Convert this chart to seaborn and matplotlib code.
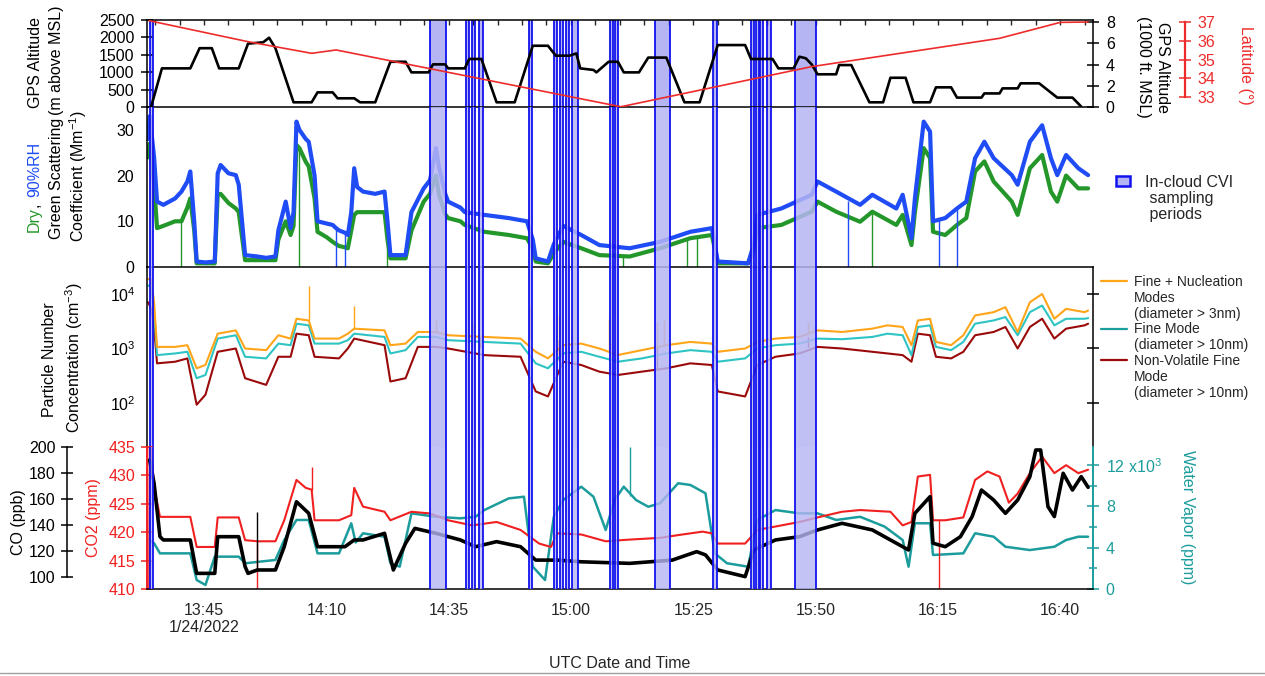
import matplotlib
matplotlib.use("Agg")
import matplotlib.pyplot as plt
import matplotlib.ticker as mticker
from matplotlib.colors import to_rgba
from matplotlib.lines import Line2D
from matplotlib.patches import Patch
import seaborn as sns

# ---------------- data (time = minutes after 13:00 UTC, 1/24/2022) ----------------
alt_t = [34.2, 36.4, 42.2, 44.1, 46.6, 48.1, 52.1, 54.0, 57.1, 58.3, 59.6, 63.3, 67.0, 68.2, 71.3, 72.3,
         75.7, 76.9, 80.0, 83.1, 86.2, 87.4, 90.9, 91.8, 94.3, 94.9, 98.3, 99.2, 101.7, 104.8, 108.5,
         112.2, 115.3, 116.9, 119.7, 121.1, 121.9, 124.6, 125.2, 127.7, 129.6, 130.8, 133.9, 135.8,
         139.5, 143.2, 146.3, 150.0, 155.6, 156.8, 161.2, 162.4, 165.5, 166.7, 168.0, 169.2, 170.4,
         174.2, 174.8, 177.3, 181.0, 183.8, 185.3, 188.4, 190.0, 193.4, 194.6, 197.7, 198.9, 203.9,
         204.5, 207.6, 208.2, 211.3, 211.9, 215.7, 219.4, 222.5, 224.3]
alt_m = [10, 1110, 1110, 1690, 1690, 1110, 1110, 1820, 1860, 1990, 1690, 135, 135, 420, 420, 250,
         250, 135, 135, 1300, 1300, 995, 995, 1225, 1225, 1110, 1110, 1380, 1380, 135, 135,
         1760, 1760, 1475, 1475, 1540, 1110, 1065, 995, 1300, 1300, 995, 995, 1420,
         1420, 135, 135, 1780, 1780, 1380, 1380, 1110, 1110, 1445, 1400, 1225, 940,
         940, 1205, 1205, 135, 135, 840, 840, 135, 135, 565, 565, 270, 270,
         390, 390, 535, 535, 680, 680, 270, 270, 10]

lat_t = [33.8, 54.0, 67.0, 72.0, 130.2, 169.2, 207.6, 220.0, 225.7]
lat_deg = [37.07, 35.95, 35.33, 35.51, 32.48, 34.62, 36.13, 36.98, 37.0]

scat_t = [33.6, 33.9, 34.2, 34.8, 35.4, 36.7, 39.1, 40.4, 41.6, 42.2,
          43.0, 43.5, 45.3, 47.2, 47.8, 48.4, 50.0, 51.5, 52.1, 53.4,
          55.9, 57.7, 59.6, 60.2, 61.7, 62.7, 63.3, 63.9, 64.5, 65.8,
          66.4, 67.6, 68.2, 70.1, 71.3, 72.0, 72.6, 73.8, 74.4, 75.1,
          75.7, 76.3, 77.5, 80.0, 81.9, 82.5, 83.1, 86.2, 87.4, 89.9,
          91.2, 92.4, 93.0, 94.3, 94.9, 97.4, 98.3, 102.3, 107.3, 111.0,
          112.2, 112.8, 115.3, 116.5, 118.4, 122.1, 125.8, 132.0, 138.2, 144.4,
          148.8, 149.4, 150.0, 156.2, 157.4, 158.1, 163.0, 169.2, 170.4, 174.2,
          179.1, 181.6, 186.5, 187.8, 189.6, 190.3, 192.1, 193.4, 194.0, 196.5,
          198.9, 200.8, 202.6, 204.5, 206.4, 210.1, 211.3, 213.8, 216.3, 218.1,
          219.4, 221.2, 223.7, 225.7]
scat_wet = [28, 33, 30, 24, 14.3, 13.6, 15, 16.5, 18.7, 20.9,
            10, 1.2, 1.0, 1.2, 20.5, 22.3, 20.5, 20.1, 18, 2.6,
            2.3, 2.0, 2.3, 8, 14.3, 8.5, 12, 31.8, 30, 28,
            27.4, 20, 10, 9.5, 9.2, 8.5, 8.0, 7.5, 7.0, 12,
            21.6, 17.5, 16.5, 16, 16.5, 10, 2.6, 2.6, 12, 17.2,
            19, 26, 22, 16, 14.3, 13, 12, 11.4, 10.7, 10,
            6, 1.9, 1.2, 5, 9, 7, 4.8, 4.1, 5.5, 7.7,
            8.5, 5, 1.2, 0.8, 5, 11.4, 12.8, 15.8, 18.7, 16.5,
            13.6, 15.8, 12.8, 15.8, 6.3, 15, 31.8, 29.6, 10, 10.7,
            12.8, 14.3, 23.8, 27.4, 23.8, 20.1, 18, 27.4, 31, 23.8,
            20.1, 24.5, 21.6, 20.1]
scat_dry = [24, 27, 24, 18, 8.5, 9, 10, 10, 13, 15,
            8, 0.8, 0.8, 0.8, 15.8, 16, 14, 12.8, 12, 1.5,
            1.5, 1.5, 1.5, 6, 10, 7, 9, 26.7, 26, 23,
            22, 15, 7.7, 6.5, 5.5, 5.0, 4.6, 4.3, 4.1, 8,
            11.4, 12, 12, 12, 12, 6, 1.9, 1.9, 8, 14.3,
            16, 20, 16, 11.5, 10.7, 10, 9.2, 7.7, 7.0, 6.3,
            4, 1.2, 0.8, 3, 5.5, 4.1, 2.6, 2.3, 4.1, 6.3,
            7.0, 4, 0.8, 0.8, 4, 8.5, 9.2, 12.1, 14.3, 12.1,
            9.9, 12.1, 9.2, 11.4, 4.8, 12, 26, 23.8, 7.7, 7.0,
            9.2, 10.7, 20.9, 23.1, 18.7, 14.3, 11.4, 21.6, 24.5, 16.5,
            14.3, 20, 17.2, 17.2]
wet_dip_t = [72.0, 73.8, 176.6, 195.2, 198.9]
wet_dip_top = [8.5, 7.5, 14.5, 10.5, 12.8]
dry_dip_t = [40.4, 64.5, 82.5, 130.6, 143.8, 145.7, 181.6]
dry_dip_top = [10, 26, 6, 2.3, 6.3, 6.5, 12.1]

pn_t = [33.6, 34.2, 34.8, 35.4, 39.1, 41.6, 43.5, 45.3, 47.8, 51.5, 53.4, 57.7, 60.2, 62.7, 63.9, 66.4,
        67.6, 72.6, 74.4, 75.7, 81.9, 83.1, 86.2, 88.7, 92.4, 94.9, 102.3, 109.7, 112.8, 115.3, 118.4,
        122.1, 125.8, 129.6, 134.5, 139.5, 144.4, 148.8, 150.0, 155.6, 158.1, 161.8, 166.7, 170.4,
        175.4, 181.6, 184.7, 187.8, 189.6, 190.9, 193.4, 194.6, 197.7, 200.2, 202.6, 206.4, 208.8,
        211.3, 213.8, 216.3, 218.8, 221.2, 225.0, 225.7]
pn_nuc = [18750, 18750, 7000, 1070, 1070, 1150, 433, 500, 1870, 2150, 1000, 933, 1750, 1520, 3510, 3270,
          1520, 1520, 1870, 2310, 2150, 1150, 1230, 2010, 2010, 1750, 1630, 1520, 870, 660, 1150,
          1230, 1000, 760, 933, 1150, 1320, 1230, 870, 1000, 1320, 1520, 1630, 2150,
          2010, 2310, 2660, 2480, 1150, 3270, 3510, 1320, 1150, 1750, 4040, 4640, 5720,
          2010, 7050, 10000, 3510, 5340, 4640, 4980]
pn_fine = [14190, 14190, 5000, 756, 811, 870, 285, 327, 1520, 1750, 705, 658, 1230, 1150, 2850, 2660,
           1230, 1230, 1420, 1870, 1630, 811, 933, 1630, 1630, 1420, 1320, 1230, 534, 433, 811,
           870, 705, 572, 658, 811, 933, 870, 572, 658, 1000, 1150, 1230, 1520,
           1480, 1630, 1870, 1750, 756, 2480, 2660, 1070, 933, 1320, 2850, 3270, 3770,
           1750, 4640, 6130, 2660, 3510, 3510, 3610]
pn_nonvol = [7050, 5340, 2500, 534, 572, 658, 93, 142, 870, 1000, 285, 215, 705, 705, 1870, 1750,
             705, 658, 1000, 1520, 1150, 248, 285, 1070, 1070, 1000, 756, 705, 163, 132, 572,
             498, 376, 327, 376, 433, 534, 498, 163, 132, 498, 705, 811, 1070,
             1000, 870, 811, 756, 572, 1870, 1750, 705, 658, 870, 1750, 2010, 2480,
             1000, 2480, 3510, 1520, 2310, 2660, 2850]
nuc_spike_t = [66.4, 75.7, 92.4, 100.0, 111.7, 117.5, 120.3, 127.8, 137.6, 139.0, 168.5]
nuc_spike_base = [3270, 2310, 2010, 1700, 1520, 1000, 1200, 850, 1000, 1100, 1800]
nuc_spike_top = [14190, 6130, 3510, 3000, 6130, 4040, 5340, 3510, 3000, 3270, 3000]
nv_spike_t = [99.8, 101.5, 117.5, 120.3, 128.0, 137.6, 158.5, 168.5]
nv_spike_base = [1000, 1000, 600, 700, 376, 400, 600, 1050]
nv_spike_top = [1750, 1630, 1420, 1750, 1320, 1230, 1230, 1630]

co2_t = [33.8, 33.9, 34.2, 34.8, 36.0, 42.2, 43.5, 47.2, 47.8, 52.1,
         53.4, 55.9, 59.6, 61.4, 63.9, 65.8, 67.0, 67.6, 72.6, 75.1,
         75.7, 77.5, 81.9, 83.1, 87.4, 91.2, 94.9, 99.8, 102.3, 104.8,
         109.7, 113.5, 115.9, 117.2, 122.1, 127.1, 132.0, 138.2, 142.0, 146.9,
         148.8, 150.0, 155.6, 158.1, 161.8, 166.7, 170.4, 175.4, 179.1, 185.3,
         187.8, 189.6, 190.9, 193.4, 194.0, 196.5, 200.2, 202.6, 205.1, 207.6,
         209.5, 211.3, 213.8, 216.3, 218.8, 221.2, 223.7, 225.7]
co2_ppm = [410, 435, 435, 428, 422.7, 422.7, 417.4, 417.4, 422.6, 422.6,
           418.6, 418.4, 418.4, 422.1, 429.2, 427.8, 427.5, 422.1, 422.1, 423.0,
           427.8, 424.5, 423.6, 422.1, 423.6, 423.3, 422.1, 421.2, 421.5, 421.8,
           420.4, 418.0, 417.4, 419.8, 419.6, 418.4, 418.7, 419.0, 419.5, 420.1,
           419.8, 418.0, 418.0, 420.4, 421.0, 421.8, 422.6, 423.6, 423.9, 423.6,
           421.2, 421.8, 429.8, 430.1, 422.1, 422.1, 422.6, 429.2, 430.7, 429.8,
           425.2, 426.8, 430.4, 433.3, 430.4, 431.8, 430.4, 431.0]
co2_dip_t = [55.9, 195.2]
co2_dip_top = [418.4, 422.1]
co2_spike_t = [67.0]
co2_spike_base = [427.5]
co2_spike_top = [431.5]

co_t = [33.9, 34.8, 36.0, 36.7, 42.2, 43.5, 47.2, 47.8, 52.1, 53.4,
        54.0, 55.9, 59.6, 61.4, 63.9, 66.4, 68.2, 73.8, 75.7, 77.5,
        81.9, 83.7, 86.2, 88.1, 92.4, 97.4, 100.5, 104.8, 109.7, 112.8,
        117.2, 122.1, 132.0, 140.7, 145.7, 147.5, 150.0, 155.6, 157.4, 161.8,
        166.7, 170.4, 175.4, 181.6, 185.3, 189.0, 190.3, 193.4, 194.0, 196.5,
        199.6, 202.0, 203.9, 206.4, 208.8, 211.3, 213.8, 215.0, 216.0, 217.5,
        218.8, 220.6, 222.5, 224.3, 225.7]
co_ppb = [190, 172, 131, 128.5, 128.5, 102.8, 102.8, 131, 131, 108,
          102.8, 105.4, 105.4, 123.3, 157.9, 149, 123.3, 123.3, 128.5, 128.5,
          133.6, 105.4, 125.9, 137.4, 133.6, 128.5, 123.3, 127.2, 123.3, 113,
          113, 111.7, 110.5, 113, 119.5, 117, 105.4, 100.3, 120.8, 128.5,
          131, 136.2, 141.3, 136.2, 128.5, 120.8, 149, 161.8, 126, 123.3,
          131, 146.5, 166.9, 159.2, 149, 159.2, 177.2, 197.7, 197.7, 154.1,
          146.5, 179.8, 166.9, 177.2, 169]
co_spike_t = [55.9]
co_spike_base = [105.4]
co_spike_top = [150]

h2o_t = [33.9, 34.8, 36.0, 42.2, 43.5, 45.3, 47.2, 52.1, 53.4, 59.6,
         61.4, 63.9, 66.4, 68.2, 72.6, 75.1, 76.0, 77.5, 81.9, 83.1,
         85.0, 87.4, 92.4, 97.4, 100.5, 102.3, 107.3, 110.4, 112.2, 114.7,
         116.5, 118.4, 122.1, 124.6, 127.1, 128.9, 130.8, 133.3, 135.8, 138.2,
         141.9, 144.4, 147.5, 149.4, 151.9, 156.2, 158.1, 161.8, 166.7, 170.4,
         174.2, 179.1, 184.1, 187.8, 189.0, 190.3, 193.4, 194.0, 200.2, 202.6,
         206.4, 208.8, 213.8, 218.8, 221.2, 223.7, 225.7]
h2o_ppm = [4700, 4420, 3450, 3450, 870, 390, 3130, 3130, 2490, 2810,
           4740, 6680, 6680, 3450, 3450, 6360, 4500, 5390, 5060, 2490,
           2160, 7320, 6990, 6840, 6990, 7640, 8770, 8930, 2160, 870,
           6990, 8610, 9900, 8930, 5710, 8610, 9900, 8610, 7960, 8290,
           10230, 10070, 9260, 3450, 2490, 2160, 6680, 7640, 7320, 7320,
           6680, 6990, 6040, 4740, 2160, 6360, 6360, 3290, 3450, 5390,
           5060, 4090, 3770, 4090, 4740, 5060, 5060]
h2o_spike_t = [132.0]
h2o_spike_base = [9000]
h2o_spike_top = [13770]

cvi_start = [33.9, 91.2, 98.6, 99.8, 101.3, 111.35, 116.55, 117.67, 119.03, 120.27,
             127.95, 129.06, 137.24, 149.01, 156.81, 157.8, 158.67, 160.16, 165.73]
cvi_end = [34.5, 94.5, 99.1, 100.45, 102.06, 111.97, 117.17, 118.41, 119.65, 121.38,
           128.57, 129.68, 140.21, 149.75, 157.43, 158.42, 159.29, 160.9, 170.06]

xtick_pos = [45, 70, 95, 120, 145, 170, 195, 220]
xtick_lab = ['13:45\n1/24/2022', '14:10', '14:35', '15:00', '15:25', '15:50', '16:15', '16:40']
alt_ticks = [0, 500, 1000, 1500, 2000, 2500]
kft_ticks = [0, 2, 4, 6, 8]
lat_ticks = [33, 34, 35, 36, 37]
scat_ticks = [0, 10, 20, 30]
co2_ticks = [410, 415, 420, 425, 430, 435]
co_ticks = [100, 120, 140, 160, 180, 200]
h2o_ticks = [0, 4000, 8000, 12000]
h2o_minor = [2000, 6000, 10000]
h2o_labels = ['0', '4', '8', '12 x10$^3$']

# ---------------- style ----------------
C_GREEN = '#24972b'
C_BLUE = '#1f4cf5'
C_LAT = '#ee2b2b'
C_NUC = '#ffa51a'
C_FINE = '#2ec4c4'
C_FINE_LEG = '#1c9e9e'
C_NV = '#9a0a0a'
C_CO2 = '#f02020'
C_H2O = '#1c9c9c'
CVI_FC = '#b5b5f3'
CVI_EC = '#1212ee'

sns.set_style('white')
plt.rcParams.update({
    'font.family': ['Liberation Sans', 'DejaVu Sans'],
    'mathtext.fontset': 'custom',
    'mathtext.rm': 'Liberation Sans',
    'mathtext.it': 'Liberation Sans:italic',
    'mathtext.bf': 'Liberation Sans:bold',
    'mathtext.default': 'regular',
    'axes.linewidth': 1.1,
    'axes.edgecolor': 'black',
})
FS = 11.5
W, H = 1265, 676
fig = plt.figure(figsize=(W / 100, H / 100), dpi=100)
fig.patch.set_facecolor('white')


def fx(p):
    return p / W


def fy(p):
    return 1 - p / H


XL, XR = 147, 1093


def panel(top, bottom, **kw):
    return fig.add_axes([fx(XL), fy(bottom), (XR - XL) / W, (bottom - top) / H], **kw)


def plot(ax, t, v, color, lw, z=2):
    sns.lineplot(x=t, y=v, ax=ax, color=color, linewidth=lw, estimator=None,
                 sort=False, legend=False, zorder=z)


def spans(ax, z, alpha):
    for s, e in zip(cvi_start, cvi_end):
        ax.axvspan(s, e, facecolor=to_rgba(CVI_FC, alpha), edgecolor='none', lw=0, zorder=z)
        ax.axvline(s, color=CVI_EC, lw=1.3, zorder=z + 0.01)
        ax.axvline(e, color=CVI_EC, lw=1.3, zorder=z + 0.01)


def ystyle(ax, color='black', pad=5, minor_len=6):
    ax.tick_params(axis='y', which='major', direction='inout', length=8.5, width=1.1,
                   color=color, labelcolor=color, labelsize=FS, pad=pad)
    ax.tick_params(axis='y', which='minor', direction='inout', length=minor_len, width=1.1, color=color)


def hide(ax, *names):
    for n in names:
        ax.spines[n].set_visible(False)


ax1 = panel(20, 107)
ax2 = panel(107, 267, sharex=ax1)
ax3 = panel(267, 447, sharex=ax1)
ax4 = panel(447, 589, sharex=ax1)
for a in (ax1, ax2, ax3, ax4):
    a.patch.set_visible(False)

# ---------- panel 1: altitude + latitude ----------
spans(ax1, 0.5, 1.0)
plot(ax1, alt_t, alt_m, 'black', 1.9)
ax1.set_ylim(0, 2500)
ax1.set_yticks(alt_ticks)
ax1.yaxis.set_minor_locator(mticker.NullLocator())
ystyle(ax1)
hide(ax1, 'right')

ax1ft = ax1.twinx()
ax1ft.set_ylim(0, 2500 / 304.8)
ax1ft.set_yticks(kft_ticks)
ax1ft.yaxis.set_minor_locator(mticker.NullLocator())
ystyle(ax1ft)
hide(ax1ft, 'left', 'top', 'bottom')

ax1lat = ax1.twinx()
plot(ax1lat, lat_t, lat_deg, C_LAT, 1.2, z=3)
ax1lat.set_ylim(32.467, 37.107)
ax1lat.set_yticks(lat_ticks)
ax1lat.yaxis.set_minor_locator(mticker.NullLocator())
ax1lat.spines['right'].set_position(('outward', 66))
ax1lat.spines['right'].set_bounds(33, 37)
ax1lat.spines['right'].set_color(C_LAT)
ax1lat.spines['right'].set_linewidth(1.6)
ystyle(ax1lat, C_LAT)
hide(ax1lat, 'left', 'top', 'bottom')

# ---------- panel 2: scattering ----------
plot(ax2, scat_t, scat_dry, C_GREEN, 3.0)
ax2.vlines(dry_dip_t, 0, dry_dip_top, color=C_GREEN, lw=1.0, zorder=2)
plot(ax2, scat_t, scat_wet, C_BLUE, 3.0, z=2.1)
ax2.vlines(wet_dip_t, 0, wet_dip_top, color=C_BLUE, lw=1.0, zorder=2.1)
spans(ax2, 3, 0.85)
ax2.set_ylim(0, 35)
ax2.set_yticks(scat_ticks)
ax2.yaxis.set_minor_locator(mticker.MultipleLocator(2))
ystyle(ax2)
hide(ax2, 'top', 'right')

# ---------- panel 3: particle number ----------
plot(ax3, pn_t, pn_nonvol, C_NV, 1.5)
ax3.vlines(nv_spike_t, nv_spike_base, nv_spike_top, color=C_NV, lw=1.0, zorder=2)
plot(ax3, pn_t, pn_fine, C_FINE, 1.5, z=2.1)
plot(ax3, pn_t, pn_nuc, C_NUC, 1.5, z=2.2)
ax3.vlines(nuc_spike_t, nuc_spike_base, nuc_spike_top, color=C_NUC, lw=1.0, zorder=2.2)
spans(ax3, 3, 0.85)
ax3.set_yscale('log')
ax3.set_ylim(10 ** 1.193, 10 ** 4.495)
ax3.yaxis.set_major_locator(mticker.FixedLocator([1e2, 1e3, 1e4]))
ax3.yaxis.set_major_formatter(mticker.LogFormatterMathtext())
ax3.yaxis.set_minor_locator(mticker.NullLocator())
ystyle(ax3, pad=4)
ax3.tick_params(axis='y', which='major', right=True, labelright=False)
hide(ax3, 'top', 'bottom')

# ---------- panel 4: CO2 / CO / water vapour ----------
ax4w = ax4.twinx()
ax4co = ax4.twinx()
ax4w.set_zorder(1)
ax4.set_zorder(2)
ax4co.set_zorder(3)
for a in (ax4w, ax4co):
    a.patch.set_visible(False)

plot(ax4w, h2o_t, h2o_ppm, C_H2O, 1.8)
ax4w.vlines(h2o_spike_t, h2o_spike_base, h2o_spike_top, color=C_H2O, lw=1.0)
ax4w.set_ylim(0, 13741)
ax4w.set_yticks(h2o_ticks)
ax4w.set_yticklabels(h2o_labels)
ax4w.yaxis.set_minor_locator(mticker.FixedLocator(h2o_minor))
ystyle(ax4w, C_H2O)
ax4w.spines['right'].set_color(C_H2O)
ax4w.spines['right'].set_linewidth(1.4)
hide(ax4w, 'left', 'top', 'bottom')

plot(ax4, co2_t, co2_ppm, C_CO2, 1.5)
ax4.vlines(co2_dip_t, 410, co2_dip_top, color=C_CO2, lw=1.0)
ax4.vlines(co2_spike_t, co2_spike_base, co2_spike_top, color=C_CO2, lw=1.0)
ax4.set_ylim(410, 435)
ax4.set_yticks(co2_ticks)
ax4.yaxis.set_minor_locator(mticker.NullLocator())
ystyle(ax4, C_CO2, pad=4)
ax4.yaxis.tick_left()
ax4.spines['left'].set_color(C_CO2)
ax4.spines['left'].set_linewidth(1.4)
hide(ax4, 'top', 'right')

plot(ax4co, co_t, co_ppb, 'black', 2.6)
ax4co.vlines(co_spike_t, co_spike_base, co_spike_top, color='black', lw=1.0)
spans(ax4co, 5, 0.8)
ax4co.set_ylim(90.77, 200)
ax4co.set_yticks(co_ticks)
ax4co.yaxis.set_minor_locator(mticker.NullLocator())
ax4co.yaxis.tick_left()
ax4co.yaxis.set_label_position('left')
ax4co.spines['left'].set_visible(True)
ax4co.spines['left'].set_position(('outward', 57.6))
ax4co.spines['left'].set_bounds(100, 200)
ystyle(ax4co, pad=4)
hide(ax4co, 'right', 'top', 'bottom')

for a in (ax1, ax1ft, ax1lat, ax2, ax3, ax4, ax4w, ax4co):
    a.set_xlabel('')
    a.set_ylabel('')

# ---------- shared x axis ----------
ax1.set_xlim(33.35, 226.7)
ax4.set_xticks(xtick_pos)
ax4.set_xticklabels(xtick_lab)
ax4.xaxis.set_minor_locator(mticker.MultipleLocator(5))
for a in (ax1, ax2, ax3):
    a.tick_params(axis='x', which='both', bottom=False, labelbottom=False)
ax1.tick_params(axis='x', which='both', top=True, direction='in', length=3.5, width=1.0)
ax4.tick_params(axis='x', which='major', direction='inout', length=8, width=1.1, labelsize=FS, pad=6)
ax4.tick_params(axis='x', which='minor', direction='inout', length=6.5, width=1.1)


# ---------- axis titles ----------
def vtext(xp, yp, s, color='black', rot=90, size=FS):
    fig.text(fx(xp), fy(yp), s, rotation=rot, ha='center', va='center', color=color, fontsize=size)


vtext(36, 62, 'GPS Altitude')
vtext(57, 60, '(m above MSL)')
vtext(57, 178, 'Green Scattering')
vtext(78, 176, 'Coefficient (Mm$^{-1}$)')
vtext(50, 360, 'Particle Number')
vtext(74, 358, 'Concentration (cm$^{-3}$)')
vtext(18, 522, 'CO (ppb)')
vtext(93, 518, 'CO2 (ppm)', color=C_CO2)
vtext(1162, 67, 'GPS Altitude', rot=270)
vtext(1143, 67, '(1000 ft. MSL)', rot=270)
vtext(1245, 65, 'Latitude (°)', color=C_LAT, rot=270)
vtext(1188, 517, 'Water Vapor (ppm)', color=C_H2O, rot=270)
fig.text(fx(620), fy(664), 'UTC Date and Time', ha='center', va='center', fontsize=FS)

# multicoloured "Dry, 90%RH"
fig.canvas.draw()
rend = fig.canvas.get_renderer()
pieces = [('Dry', C_GREEN, 0), (',', 'black', 5), ('90%RH', C_BLUE, 0)]
objs = [fig.text(0, 0, s, color=c, fontsize=FS, rotation=90, rotation_mode='anchor',
                 ha='left', va='baseline') for s, c, _ in pieces]
lens = [o.get_window_extent(rend).height for o in objs]
total = sum(lens) + sum(g for _, _, g in pieces)
ypos = (H - 187) - total / 2
for o, L, (_, _, gap) in zip(objs, lens, pieces):
    o.set_position((fx(39), ypos / H))
    ypos += L + gap

# ---------- legends ----------
blank = Line2D([], [], color='none')
fig.legend(
    [Line2D([], [], color=C_NUC, lw=1.6), blank, blank,
     Line2D([], [], color=C_FINE_LEG, lw=1.6), blank,
     Line2D([], [], color=C_NV, lw=1.6), blank, blank],
    ['Fine + Nucleation', 'Modes', '(diameter > 3nm)', 'Fine Mode', '(diameter > 10nm)',
     'Non-Volatile Fine', 'Mode', '(diameter > 10nm)'],
    loc='upper left', bbox_to_anchor=(fx(1101), fy(275)), frameon=False, fontsize=10,
    labelspacing=0.13, handlelength=1.9, handletextpad=0.45, borderpad=0, borderaxespad=0)

blank_p = Patch(facecolor='none', edgecolor='none')
fig.legend(
    [Patch(facecolor=CVI_FC, edgecolor=CVI_EC, lw=1.8), blank_p, blank_p],
    ['In-cloud CVI', ' sampling', ' periods'],
    loc='upper left', bbox_to_anchor=(fx(1116), fy(175)), frameon=False, fontsize=FS,
    labelspacing=0.05, handlelength=0.9, handleheight=0.6, handletextpad=0.9,
    borderpad=0, borderaxespad=0)

fig.add_artist(Line2D([0, 1], [fy(673), fy(673)], transform=fig.transFigure, color='#a0a0a0', lw=1.0))

fig.savefig('out.png', dpi=100, facecolor='white')
